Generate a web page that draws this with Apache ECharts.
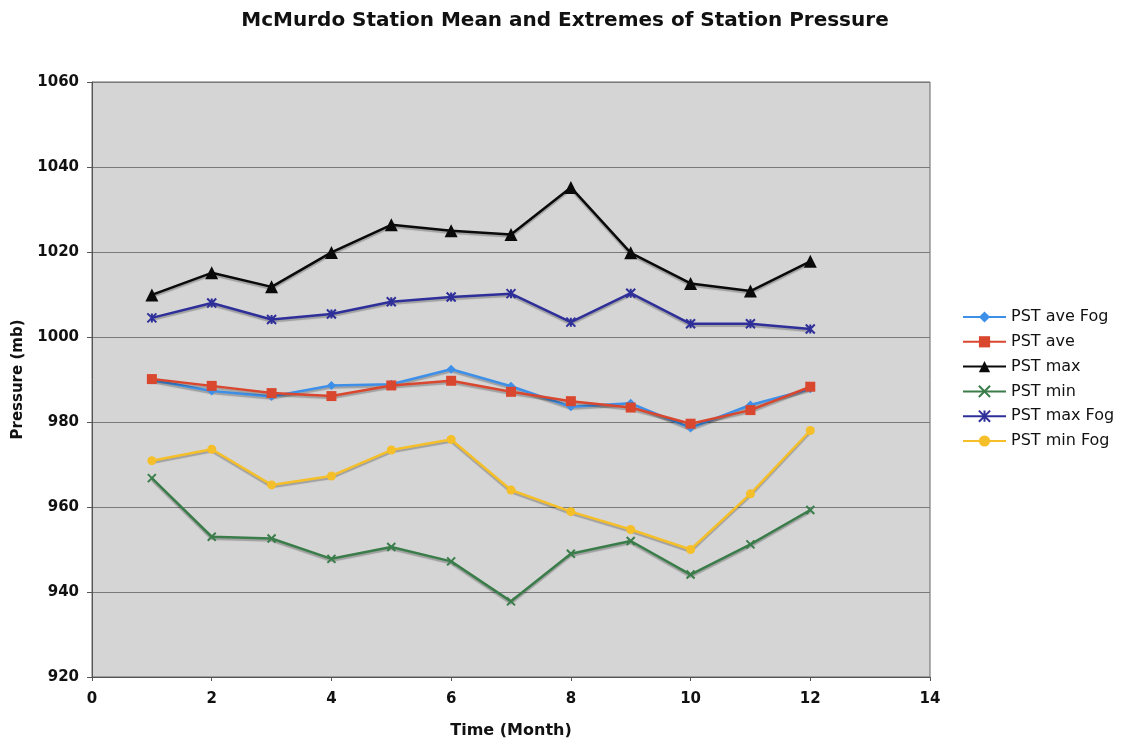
<!DOCTYPE html>
<html>
<head>
<meta charset="utf-8">
<script src="https://cdn.jsdelivr.net/npm/echarts@6/dist/echarts.min.js"></script>
<style>html,body{margin:0;padding:0;background:#fff;}#c{width:1122px;height:739px;}</style>
</head>
<body>
<div id="c"></div>
<script>
const months = [1,2,3,4,5,6,7,8,9,10,11,12];
const pstAveFog = [989.9,987.3,986.0,988.6,988.9,992.4,988.4,983.6,984.4,978.6,984.0,987.8];
const pstAve    = [990.1,988.5,986.8,986.1,988.6,989.7,987.1,984.9,983.4,979.6,982.8,988.3];
const pstMax    = [1009.9,1015.1,1011.8,1019.9,1026.4,1025.0,1024.1,1035.2,1019.8,1012.6,1010.8,1017.8];
const pstMin    = [966.8,953.0,952.6,947.8,950.6,947.2,937.8,949.0,952.0,944.1,951.2,959.3];
const pstMaxFog = [1004.5,1008.0,1004.1,1005.4,1008.3,1009.4,1010.2,1003.5,1010.3,1003.1,1003.1,1001.9];
const pstMinFog = [970.9,973.6,965.2,967.3,973.4,975.9,964.0,958.9,954.7,950.0,963.1,978.0];
const yTicks = [920,940,960,980,1000,1020,1040,1060];
const xTicks = [0,2,4,6,8,10,12,14];

const pair = arr => months.map((m,i)=>[m,arr[i]]);
const shadow = {shadowColor:'rgba(0,0,0,0.25)', shadowOffsetY:2, shadowBlur:1};

const chart = echarts.init(document.getElementById('c'));
const series = [
  {name:'PST ave Fog', data:pair(pstAveFog), color:'#3d8fe8', symbol:'diamond', symbolSize:9},
  {name:'PST ave', data:pair(pstAve), color:'#d9472f', symbol:'rect', symbolSize:10},
  {name:'PST max', data:pair(pstMax), color:'#0a0a0a', symbol:'triangle', symbolSize:13},
  {name:'PST min', data:pair(pstMin), color:'#3a7d4a', symbol:'path://M0,0L10,10M10,0L0,10', symbolSize:8, stroke:true},
  {name:'PST max Fog', data:pair(pstMaxFog), color:'#2f2f9a', symbol:'path://M0,0L10,10M10,0L0,10M5,0L5,10', symbolSize:9, stroke:true},
  {name:'PST min Fog', data:pair(pstMinFog), color:'#f5bf2a', symbol:'circle', symbolSize:9}
].map(s => ({
  name:s.name, type:'line', data:s.data, symbol:s.symbol, symbolSize:s.symbolSize,
  lineStyle:Object.assign({color:s.color, width:2.5}, shadow),
  itemStyle:s.stroke ? {color:s.color, borderColor:s.color, borderWidth:2} : {color:s.color},
  color:s.color, z:2
}));

chart.setOption({
  animation:false,
  backgroundColor:'#ffffff',
  title:{text:'McMurdo Station Mean and Extremes of Station Pressure', left:560, top:6, textAlign:'center',
    textStyle:{fontFamily:'DejaVu Sans', fontWeight:'bold', fontSize:20, color:'#111'}},
  legend:{orient:'vertical', left:957, top:304, itemWidth:43, itemHeight:14, itemGap:8.8,
    textStyle:{fontFamily:'DejaVu Sans', fontSize:16, color:'#111'},
    data:series.map(s=>s.name)},
  grid:{left:92, right:192, top:82, bottom:62, show:true, containLabel:false, outerBoundsMode:'none',
    backgroundColor:'#d5d5d5', borderColor:'#666', borderWidth:1},
  xAxis:{type:'value', min:0, max:14, interval:2,
    name:'Time (Month)', nameLocation:'middle', nameGap:46,
    nameTextStyle:{fontFamily:'DejaVu Sans', fontWeight:'bold', fontSize:16, color:'#111'},
    axisLine:{show:true, onZero:false, lineStyle:{color:'#555'}},
    axisTick:{show:true, length:4, lineStyle:{color:'#555'}},
    axisLabel:{fontFamily:'DejaVu Sans', fontWeight:'bold', fontSize:15, color:'#111', margin:15,
      formatter:v=>xTicks.includes(v)?String(v):''},
    splitLine:{show:false}},
  yAxis:{type:'value', min:920, max:1060, interval:20,
    name:'Pressure (mb)', nameLocation:'middle', nameGap:66, nameRotate:90,
    nameTextStyle:{fontFamily:'DejaVu Sans', fontWeight:'bold', fontSize:15, color:'#111'},
    axisLine:{show:true, lineStyle:{color:'#555'}},
    axisTick:{show:true, length:5, inside:false, lineStyle:{color:'#555'}},
    axisLabel:{fontFamily:'DejaVu Sans', fontWeight:'bold', fontSize:15, color:'#111', margin:13,
      formatter:v=>yTicks.includes(v)?String(v):''},
    splitLine:{show:true, lineStyle:{color:'#7a7a7a', width:1}}},
  series:series
});
</script>
</body>
</html>
